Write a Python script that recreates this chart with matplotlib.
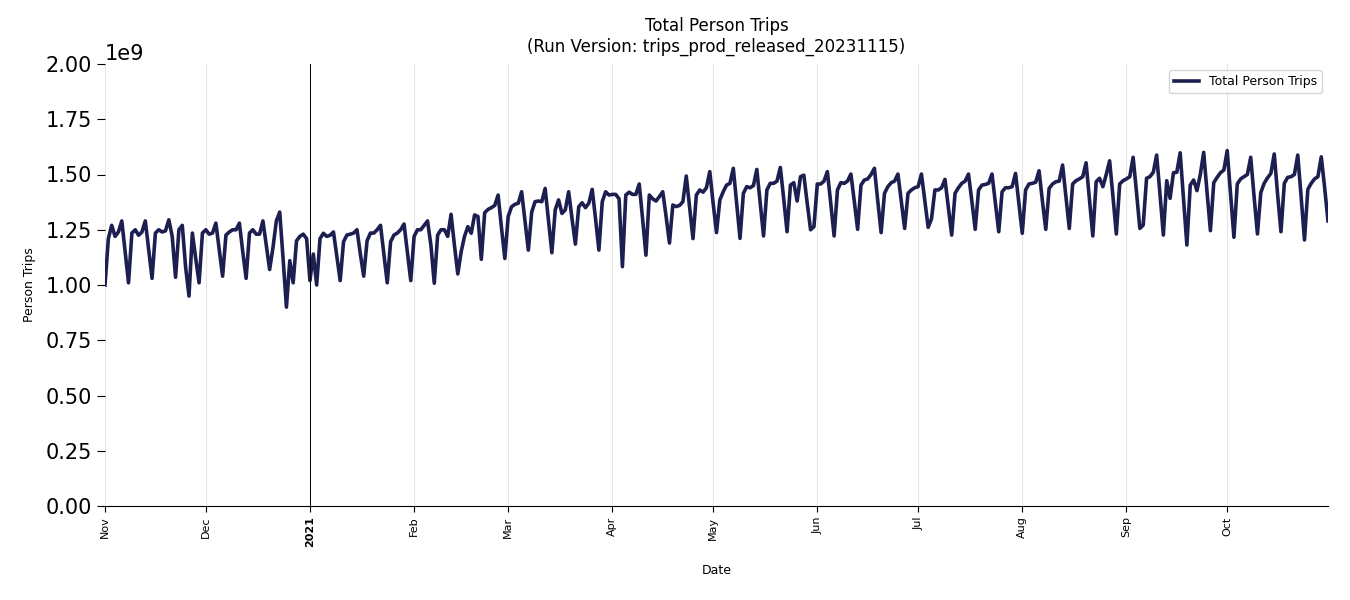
import matplotlib
matplotlib.use("Agg")
import matplotlib.pyplot as plt
import matplotlib.dates as mdates
import pandas as pd
import numpy as np

# Daily total person trips (billions), Nov 1 2020 - Oct 31 2021, one row per week (Sun..Sat)
weekly_rows = [
    [1.000, 1.210, 1.270, 1.220, 1.240, 1.290, 1.150],  # Nov 1
    [1.010, 1.235, 1.250, 1.225, 1.240, 1.290, 1.160],  # Nov 8
    [1.030, 1.235, 1.250, 1.240, 1.245, 1.295, 1.220],  # Nov 15
    [1.035, 1.250, 1.270, 1.080, 0.950, 1.235, 1.120],  # Nov 22
    [1.010, 1.235, 1.250, 1.230, 1.235, 1.280, 1.160],  # Nov 29
    [1.040, 1.226, 1.240, 1.250, 1.250, 1.280, 1.150],  # Dec 6
    [1.030, 1.235, 1.250, 1.230, 1.230, 1.290, 1.180],  # Dec 13
    [1.070, 1.170, 1.290, 1.330, 1.120, 0.900, 1.110],  # Dec 20
    [1.010, 1.200, 1.220, 1.230, 1.210, 1.020, 1.140],  # Dec 27
    [1.000, 1.210, 1.234, 1.220, 1.225, 1.240, 1.130],  # Jan 3
    [1.020, 1.196, 1.226, 1.230, 1.235, 1.250, 1.140],  # Jan 10
    [1.040, 1.200, 1.235, 1.235, 1.250, 1.270, 1.140],  # Jan 17
    [1.010, 1.196, 1.226, 1.235, 1.250, 1.276, 1.150],  # Jan 24
    [1.020, 1.220, 1.250, 1.250, 1.270, 1.290, 1.180],  # Jan 31
    [1.008, 1.226, 1.250, 1.250, 1.220, 1.320, 1.180],  # Feb 7
    [1.050, 1.150, 1.220, 1.264, 1.234, 1.317, 1.310],  # Feb 14
    [1.116, 1.327, 1.342, 1.350, 1.360, 1.407, 1.260],  # Feb 21
    [1.120, 1.310, 1.354, 1.365, 1.370, 1.422, 1.290],  # Feb 28
    [1.158, 1.330, 1.377, 1.380, 1.377, 1.437, 1.290],  # Mar 7
    [1.146, 1.340, 1.385, 1.324, 1.340, 1.422, 1.300],  # Mar 14
    [1.185, 1.354, 1.372, 1.350, 1.370, 1.433, 1.300],  # Mar 21
    [1.158, 1.377, 1.422, 1.407, 1.410, 1.410, 1.390],  # Mar 28
    [1.083, 1.407, 1.420, 1.410, 1.410, 1.457, 1.300],  # Apr 4
    [1.135, 1.407, 1.390, 1.380, 1.400, 1.422, 1.310],  # Apr 11
    [1.190, 1.362, 1.355, 1.360, 1.377, 1.493, 1.350],  # Apr 18
    [1.210, 1.407, 1.430, 1.420, 1.440, 1.513, 1.370],  # Apr 25
    [1.237, 1.385, 1.422, 1.452, 1.460, 1.528, 1.370],  # May 2
    [1.211, 1.415, 1.445, 1.440, 1.450, 1.523, 1.370],  # May 9
    [1.222, 1.430, 1.460, 1.460, 1.470, 1.532, 1.390],  # May 16
    [1.241, 1.452, 1.463, 1.380, 1.490, 1.497, 1.370],  # May 23
    [1.250, 1.264, 1.457, 1.457, 1.470, 1.513, 1.370],  # May 30
    [1.222, 1.430, 1.463, 1.460, 1.470, 1.502, 1.380],  # Jun 6
    [1.252, 1.452, 1.475, 1.480, 1.500, 1.528, 1.380],  # Jun 13
    [1.237, 1.415, 1.445, 1.463, 1.470, 1.502, 1.380],  # Jun 20
    [1.256, 1.415, 1.430, 1.440, 1.445, 1.502, 1.380],  # Jun 27
    [1.261, 1.300, 1.430, 1.430, 1.440, 1.478, 1.350],  # Jul 4
    [1.226, 1.415, 1.440, 1.460, 1.470, 1.502, 1.380],  # Jul 11
    [1.252, 1.430, 1.452, 1.455, 1.460, 1.502, 1.370],  # Jul 18
    [1.241, 1.422, 1.440, 1.440, 1.445, 1.505, 1.370],  # Jul 25
    [1.234, 1.430, 1.457, 1.460, 1.465, 1.517, 1.380],  # Aug 1
    [1.252, 1.437, 1.457, 1.467, 1.470, 1.543, 1.400],  # Aug 8
    [1.256, 1.457, 1.472, 1.480, 1.490, 1.553, 1.390],  # Aug 15
    [1.222, 1.467, 1.483, 1.445, 1.500, 1.562, 1.400],  # Aug 22
    [1.231, 1.457, 1.472, 1.480, 1.490, 1.578, 1.420],  # Aug 29
    [1.256, 1.271, 1.483, 1.490, 1.510, 1.588, 1.410],  # Sep 5
    [1.226, 1.472, 1.392, 1.508, 1.510, 1.598, 1.390],  # Sep 12
    [1.181, 1.452, 1.475, 1.427, 1.500, 1.600, 1.420],  # Sep 19
    [1.246, 1.463, 1.487, 1.508, 1.520, 1.608, 1.410],  # Sep 26
    [1.216, 1.457, 1.480, 1.490, 1.500, 1.578, 1.400],  # Oct 3
    [1.231, 1.418, 1.460, 1.485, 1.505, 1.593, 1.410],  # Oct 10
    [1.241, 1.460, 1.487, 1.490, 1.500, 1.588, 1.400],  # Oct 17
    [1.204, 1.433, 1.460, 1.480, 1.490, 1.580, 1.440],  # Oct 24
]
last_day = [1.290]  # Oct 31

start_date = "2020-11-01"
month_labels = ["Nov", "Dec", "2021", "Feb", "Mar", "Apr", "May", "Jun",
                "Jul", "Aug", "Sep", "Oct"]
month_starts = ["2020-11-01", "2020-12-01", "2021-01-01", "2021-02-01",
                "2021-03-01", "2021-04-01", "2021-05-01", "2021-06-01",
                "2021-07-01", "2021-08-01", "2021-09-01", "2021-10-01"]
y_ticks = [0.0, 0.25, 0.5, 0.75, 1.0, 1.25, 1.5, 1.75, 2.0]

values_b = [v for row in weekly_rows for v in row] + last_day
values = np.array(values_b) * 1e9
dates = pd.date_range(start_date, periods=len(values), freq="D")

fig = plt.figure(figsize=(13.5, 6), dpi=100)
ax = fig.add_axes([105/1350, 94/600, (1328-105)/1350, (506-64)/600])

line_color = "#1c1f4f"
ax.plot(dates, values, color=line_color, lw=2.6, label="Total Person Trips")

ax.set_xlim(dates[0], dates[-1])
ax.set_ylim(0, 2e9)
ax.set_yticks([t * 1e9 for t in y_ticks])
ax.tick_params(axis="y", labelsize=15, length=6)
ax.yaxis.get_offset_text().set_fontsize(15)

tick_dates = pd.to_datetime(month_starts)
ax.set_xticks(tick_dates)
ax.set_xticklabels(month_labels, rotation=90, fontsize=8)
for lbl in ax.get_xticklabels():
    if lbl.get_text() == "2021":
        lbl.set_fontweight("bold")
ax.tick_params(axis="x", length=4)

ax.grid(axis="x", color="#e6e6e6", lw=0.8)
ax.set_axisbelow(True)
ax.axvline(pd.Timestamp("2021-01-01"), color="black", lw=0.7)

for s in ["top", "right", "left"]:
    ax.spines[s].set_visible(False)

ax.set_xlabel("Date", fontsize=9, labelpad=12)
ax.set_ylabel("Person Trips", fontsize=9, labelpad=7)
ax.set_title("Total Person Trips\n(Run Version: trips_prod_released_20231115)",
             fontsize=12, y=1.0, pad=8.5)
ax.legend(loc="upper right", fontsize=9, frameon=True)

fig.savefig("out.png", dpi=100)
